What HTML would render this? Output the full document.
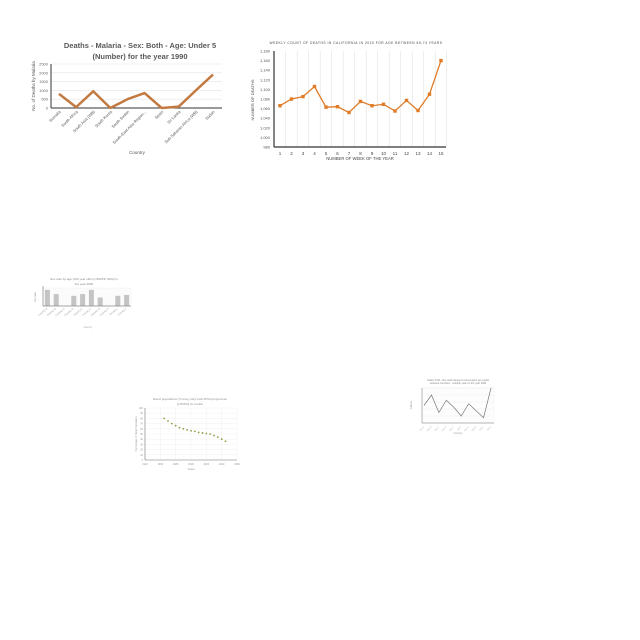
<!DOCTYPE html>
<html><head><meta charset="utf-8"><style>
html,body{margin:0;padding:0;background:#fff;width:640px;height:640px;overflow:hidden}
svg{position:absolute;left:0;top:0;font-family:"Liberation Sans",sans-serif}
</style></head><body>
<svg id="s" width="640" height="640"></svg>
<script>
// ---- Chart 1 data
const c1Cats=["Somalia","South Africa","South Asia (WB)","South Korea","South Sudan","South-East Asia Region...","Spain","Sri Lanka","Sub-Saharan Africa (WB)","Sudan"];
const c1Vals=[800,50,950,0,500,850,0,80,1000,1900];
const c1Ticks=[0,500,1000,1500,2000,2500];
// ---- Chart 2 data
const c2Weeks=[1,2,3,4,5,6,7,8,9,10,11,12,13,14,15];
const c2Vals=[1066,1080,1085,1106,1063,1064,1052,1075,1066,1069,1055,1077,1056,1090,1160];
const c2Ticks=[980,1000,1020,1040,1060,1080,1100,1120,1140,1160,1180];
// ---- Chart 3 data
const c3Cats=["A","B","C","D","E","F","G","H","I","J"];
const c3Vals=[0.95,0.7,0,0.6,0.7,0.95,0.5,0,0.6,0.65];
// ---- Chart 4 data
const c4Years=[1965,1970,1975,1980,1985,1990,1995,2000,2005,2010,2015,2020,2025,2030,2035,2040,2045];
const c4Vals=[80,75,70,66,62,60,58,56,55,53,52,51,50,47,44,40,36];
const c4Ticks=[1940,1960,1980,2000,2020,2040,2060];
// ---- Chart 5 data
const c5Cats=["a","b","c","d","e","f","g","h","i","j"];
const c5Vals=[0.5,0.8,0.3,0.65,0.45,0.2,0.55,0.35,0.15,1.0];

const NS="http://www.w3.org/2000/svg";const S=document.getElementById('s');
function el(t,a,txt){const e=document.createElementNS(NS,t);for(const k in a)e.setAttribute(k,a[k]);if(txt!==undefined)e.textContent=txt;S.appendChild(e);return e;}

// Chart 1
{const x0=51,x1=222,yb=108,yt=64;const ys=v=>yb-(v/2500)*(yb-yt);const xs=i=>59+i*(213-59)/9;
let t=el('text',{x:140,y:48,'font-size':7.5,'font-weight':'bold','text-anchor':'middle',fill:'#595959'},'Deaths - Malaria - Sex: Both - Age: Under 5');

t=el('text',{x:140,y:59,'font-size':7.5,'font-weight':'bold','text-anchor':'middle',fill:'#595959'},'(Number) for the year 1990');

c1Ticks.forEach(v=>{const g=el('line',{x1:x0,x2:x1,y1:ys(v),y2:ys(v),stroke:'#e4e4e4','stroke-width':0.6});
const l=el('text',{x:x0-3,y:ys(v)+1.5,'font-size':4,'text-anchor':'end',fill:'#666'},v);});
el('line',{x1:x0,x2:x0,y1:yt,y2:yb,stroke:'#333','stroke-width':1});
el('line',{x1:x0,x2:x1,y1:yb,y2:yb,stroke:'#333','stroke-width':1});
const p=el('polyline',{points:c1Vals.map((v,i)=>xs(i)+','+ys(v)).join(' '),fill:'none',stroke:'#c27a42','stroke-width':2.5,'stroke-linejoin':'round'});

c1Cats.forEach((c,i)=>{const l=el('text',{x:xs(i)+2,y:112,'font-size':4,'text-anchor':'end',fill:'#555',transform:`rotate(-45 ${xs(i)+2} 112)`},c);});
t=el('text',{x:137,y:154,'font-size':4.5,'text-anchor':'middle',fill:'#555'},'Country');
t=el('text',{x:35,y:86,'font-size':4.5,'text-anchor':'middle',fill:'#555',transform:'rotate(-90 35 86)'},'No. of Deaths by Malaria');}

// Chart 2
{const x0=274,x1=446,yb=147,yt=51;const ys=v=>yb-(v-980)/200*(yb-yt);const xs=i=>280+i*(441-280)/14;
let t=el('text',{x:356,y:44,'font-size':3.3,'text-anchor':'middle',fill:'#444','letter-spacing':'0.5'},'WEEKLY COUNT OF DEATHS IN CALIFORNIA IN 2020 FOR AGE BETWEEN 65-74 YEARS');
c2Weeks.forEach((w,i)=>{const g=el('line',{x1:xs(i)+5.7,x2:xs(i)+5.7,y1:yt,y2:yb,stroke:'#e2e2e2','stroke-width':0.6});
const l=el('text',{x:xs(i),y:155,'font-size':4.5,'text-anchor':'middle',fill:'#444'},w);});
c2Ticks.forEach(v=>{const l=el('text',{x:x0-4,y:ys(v)+1.5,'font-size':4,'text-anchor':'end',fill:'#555'},v.toLocaleString('en-US'));});
el('line',{x1:x0,x2:x0,y1:yt,y2:yb,stroke:'#333','stroke-width':1.2});
el('line',{x1:x0,x2:x1,y1:yb,y2:yb,stroke:'#333','stroke-width':1.2});
const p=el('polyline',{points:c2Vals.map((v,i)=>xs(i)+','+ys(v)).join(' '),fill:'none',stroke:'#e07b27','stroke-width':1.3});
c2Vals.forEach((v,i)=>{const m=el('rect',{x:xs(i)-1.7,y:ys(v)-1.7,width:3.4,height:3.4,fill:'#e07b27'});});
t=el('text',{x:360,y:160,'font-size':4.2,'text-anchor':'middle',fill:'#444'},'NUMBER OF WEEK OF THE YEAR');
t=el('text',{x:254,y:100,'font-size':4,'text-anchor':'middle',fill:'#444',transform:'rotate(-90 254 100)'},'NUMBER OF DEATHS');}

// Chart 3
{const x0=43,x1=131,yb=306,yt=289;const bw=(x1-x0)/10;
let t=el('text',{x:84,y:280,'font-size':3,'text-anchor':'middle',fill:'#888'},'Sex ratio by age (100 year olds) (UNWPP, 2022) in');
t=el('text',{x:84,y:285,'font-size':3,'text-anchor':'middle',fill:'#888'},'the year 2020');
el('rect',{x:x0,y:yt-1,width:x1-x0,height:yb-yt+1,fill:'#fbfbfb',stroke:'#eee','stroke-width':0.4});
c3Vals.forEach((v,i)=>{const h=v*(yb-yt);const b=el('rect',{x:x0+i*bw+bw/2-2.5,y:yb-h,width:5,height:h,fill:'#c4c4c4'});
const l=el('text',{x:x0+i*bw+bw/2,y:309,'font-size':2.5,'text-anchor':'end',fill:'#999',transform:`rotate(-40 ${x0+i*bw+bw/2} 309)`},'Country '+c3Cats[i]);});
el('line',{x1:x0,x2:x0,y1:yt-3,y2:yb,stroke:'#888','stroke-width':0.7});
el('line',{x1:x0,x2:x1,y1:yb,y2:yb,stroke:'#888','stroke-width':0.7});
t=el('text',{x:36,y:297,'font-size':2.5,'text-anchor':'middle',fill:'#999',transform:'rotate(-90 36 297)'},'Sex ratio');
t=el('text',{x:88,y:328,'font-size':2.5,'text-anchor':'middle',fill:'#aaa'},'Country');}

// Chart 4
{const x0=145,x1=237,yb=460,yt=408;const xs=y=>x0+(y-1940)/120*(x1-x0);const ys=v=>yb-v/100*(yb-yt);
let t=el('text',{x:190,y:400,'font-size':3.5,'text-anchor':'middle',fill:'#888','font-family':'Liberation Serif'},'Rural population (% long run) with 2050 projections');
t=el('text',{x:190,y:405,'font-size':3.5,'text-anchor':'middle',fill:'#888','font-family':'Liberation Serif'},'(OWID) in Jordan');
for(let v=0;v<=100;v+=10){const g=el('line',{x1:x0,x2:x1,y1:ys(v),y2:ys(v),stroke:'#eee','stroke-width':0.4});
const l=el('text',{x:x0-2,y:ys(v)+1,'font-size':2.5,'text-anchor':'end',fill:'#999'},v);}
c4Ticks.forEach(y=>{const g=el('line',{x1:xs(y),x2:xs(y),y1:yt,y2:yb,stroke:'#eee','stroke-width':0.4});
const l=el('text',{x:xs(y),y:465,'font-size':2.5,'text-anchor':'middle',fill:'#999'},y);});
el('line',{x1:x0,x2:x0,y1:yt,y2:yb,stroke:'#777','stroke-width':0.6});
el('line',{x1:x0,x2:x1,y1:yb,y2:yb,stroke:'#777','stroke-width':0.6});
c4Vals.forEach((v,i)=>{const c=el('circle',{cx:xs(c4Years[i]),cy:ys(v),r:0.9,fill:'#8aa040'});});
t=el('text',{x:191,y:470,'font-size':3,'text-anchor':'middle',fill:'#999'},'Years');
t=el('text',{x:137,y:434,'font-size':2.5,'text-anchor':'middle',fill:'#999',transform:'rotate(-90 137 434)'},'Percentage of Rural Population');}

// Chart 5
{const x0=422,x1=494,yb=423,yt=388;const xs=i=>424+i*(491-424)/9;const ys=v=>yb-v*(yb-yt);
let t=el('text',{x:458,y:381,'font-size':2.5,'text-anchor':'middle',fill:'#888'},'Gallon CO2 - Net road transport consumption per capita');
t=el('text',{x:458,y:384,'font-size':2.5,'text-anchor':'middle',fill:'#888'},'selected countries - multiple years in the year 1990');
el('rect',{x:x0,y:yt,width:x1-x0,height:yb-yt,fill:'#fdfdfd',stroke:'#eee','stroke-width':0.4});
for(let k=0;k<=5;k++){const v=k/5;const g=el('line',{x1:x0,x2:x1,y1:ys(v),y2:ys(v),stroke:'#e9e9e9','stroke-width':0.4});}
el('line',{x1:x0,x2:x0,y1:yt,y2:yb,stroke:'#777','stroke-width':0.5});
el('line',{x1:x0,x2:x1,y1:yb,y2:yb,stroke:'#777','stroke-width':0.5});
const p=el('polyline',{points:c5Vals.map((v,i)=>xs(i)+','+ys(v)).join(' '),fill:'none',stroke:'#777','stroke-width':0.7});
c5Cats.forEach((c,i)=>{const l=el('text',{x:xs(i),y:427,'font-size':2.2,'text-anchor':'end',fill:'#aaa',transform:`rotate(-50 ${xs(i)} 427)`},'Ctry '+c);});
t=el('text',{x:458,y:434,'font-size':2.5,'text-anchor':'middle',fill:'#999'},'Country');
t=el('text',{x:412,y:405,'font-size':2.5,'text-anchor':'middle',fill:'#999',transform:'rotate(-90 412 405)'},'Gallons');}
</script>
</body></html>
